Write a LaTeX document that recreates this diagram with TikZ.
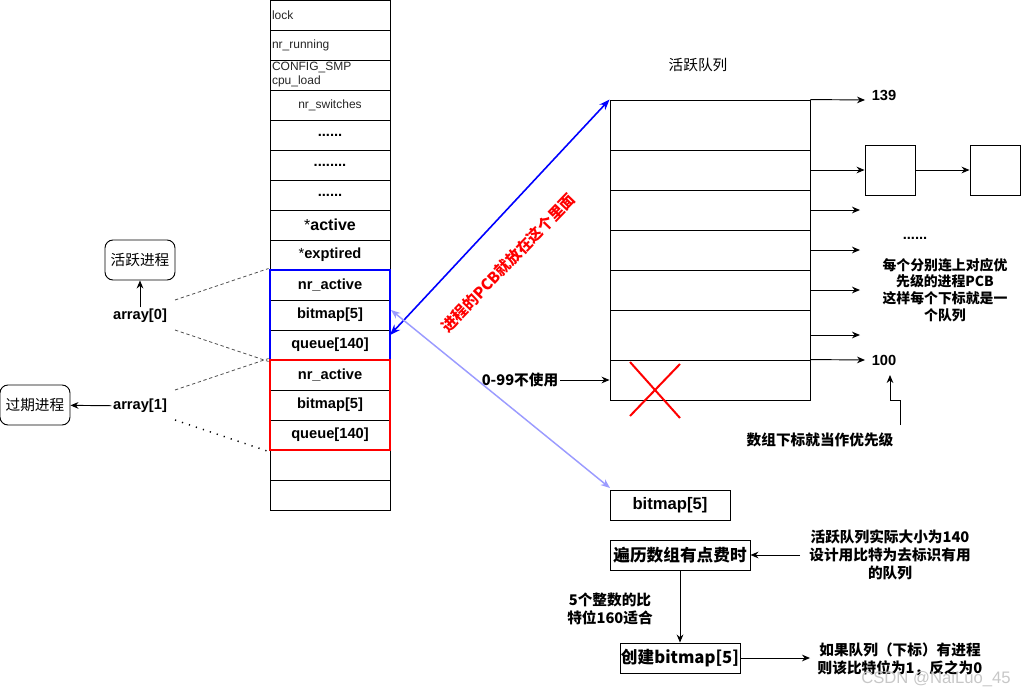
\documentclass[tikz,border=0pt]{standalone}
\usepackage{fontspec}
\setmainfont{Liberation Sans}
\newfontfamily\cjk{Noto Sans CJK SC}
\usetikzlibrary{arrows.meta}
\definecolor{lightblue}{RGB}{155,155,255}
\definecolor{dashgray}{RGB}{80,80,80}
\begin{document}
\begin{tikzpicture}[x=0.75pt,y=-0.75pt,line width=0.7pt,
  cell/.style={draw, minimum width=90pt, minimum height=22.5pt, inner sep=0pt, font=\bfseries\fontsize{11}{12}\selectfont},
  lcell/.style={draw, minimum width=90pt, minimum height=22.5pt, text width=87pt, align=left, inner xsep=1.5pt, inner ysep=0pt, font=\fontsize{9}{10.5}\selectfont, text=black!85},
  qcell/.style={draw, minimum width=150pt, inner sep=0pt},
  arr/.style={-{Stealth[length=6pt,width=5pt]}, line width=0.7pt},
  rbox/.style={draw, rounded corners=6pt, minimum width=52.5pt, minimum height=30pt, inner sep=0pt, font=\cjk\fontsize{11}{13}\selectfont},
  lbl/.style={font=\bfseries\fontsize{11}{13}\selectfont, inner sep=1pt},
  cjklbl/.style={font=\cjk\bfseries\fontsize{11}{13.5}\selectfont, align=center, inner sep=1pt},
  bbox/.style={draw, minimum width=90pt, minimum height=22.5pt, inner sep=0pt, font=\cjk\bfseries\fontsize{12.5}{14}\selectfont},
  pbox/.style={draw, minimum width=37.5pt, minimum height=37.5pt, inner sep=0pt}
]
\useasboundingbox (0,0) rectangle (1021,696);

% ---------- left table ----------
\node[lcell] (t1) at (330,15) {lock};
\node[lcell] (t2) at (330,45) {nr\_running};
\node[lcell] (t3) at (330,75) {CONFIG\_SMP\\cpu\_load};
\node[cell, font=\fontsize{9}{10}\selectfont, text=black!85] (t4) at (330,105) {nr\_switches};
\node[cell] (t5) at (330,135) {......};
\node[cell] (t6) at (330,165) {........};
\node[cell] (t7) at (330,195) {......};
\node[cell, font=\bfseries\fontsize{12}{13}\selectfont] (t8) at (330,225) {{\mdseries*}active};
\node[cell] (t9) at (330,255) {{\mdseries*}exptired};
\node[cell] (t10) at (330,285) {nr\_active};
\node[cell] (t11) at (330,315) {bitmap[5]};
\node[cell] (t12) at (330,345) {queue[140]};
\node[cell] (t13) at (330,375) {nr\_active};
\node[cell] (t14) at (330,405) {bitmap[5]};
\node[cell] (t15) at (330,435) {queue[140]};
\node[cell] (t16) at (330,465) {};
\node[cell] (t17) at (330,495) {};

\node[draw=blue, line width=2.2pt, minimum width=90pt, minimum height=67.5pt, inner sep=0pt] (arr0box) at (330,315) {};
\node[draw=red, line width=2.2pt, minimum width=90pt, minimum height=67.5pt, inner sep=0pt] (arr1box) at (330,405) {};

% ---------- left labels ----------
\node[rbox] (act) at (140,260) {活跃进程};
\node[lbl] (a0) at (140,316) {array[0]};
\node[rbox] (exp) at (35,405) {过期进程};
\node[lbl] (a1) at (140,406) {array[1]};
\draw[arr] (a0) -- (act);
\draw[arr] (a1) -- (exp);

\coordinate (d1) at (175,300);
\coordinate (d2) at (175,330);
\coordinate (d3) at (175,390);
\coordinate (d4) at (175,420);
\draw[dashgray, dash pattern=on 2.5pt off 2pt, line width=0.6pt] (d1) -- (arr0box.north west);
\draw[dashgray, dash pattern=on 2.5pt off 2pt, line width=0.6pt] (d2) -- (arr0box.south west);
\draw[dashgray, dash pattern=on 2.5pt off 2pt, line width=0.6pt] (d3) -- (arr1box.north west);
\draw[black, dash pattern=on 0.9pt off 4.6pt, line width=1.1pt] (d4) -- (arr1box.south west);

% ---------- queue table ----------
\node (qtitle) at (698,65) {\cjk\fontsize{11}{13}\selectfont 活跃队列};
\node[qcell, minimum height=37.5pt] (q1) at (710,125) {};
\node[qcell, minimum height=30pt] (q2) at (710,170) {};
\node[qcell, minimum height=30pt] (q3) at (710,210) {};
\node[qcell, minimum height=30pt] (q4) at (710,250) {};
\node[qcell, minimum height=30pt] (q5) at (710,290) {};
\node[qcell, minimum height=37.5pt] (q6) at (710,335) {};
\node[qcell, minimum height=30pt] (q7) at (710,380) {};

\draw[red, line width=1.5pt] (630,362) -- (680,418);
\draw[red, line width=1.5pt] (680,364) -- (630,416);

\node[lbl, anchor=west] (n139) at (870,95) {139};
\node[lbl, anchor=west] (n100) at (870,360) {100};
\coordinate (e139) at (865,100);
\coordinate (e100) at (865,360);
\draw[arr] (q1.north east) -- (e139);
\draw[arr] (q7.north east) -- (e100);

\node[pbox] (p1) at (890,170) {};
\node[pbox] (p2) at (995,170) {};
\draw[arr] (q2.east) -- (p1.west);
\draw[arr] (p1.east) -- (p2.west);

\coordinate (e3) at (860,210);
\coordinate (e4) at (860,250);
\coordinate (e5) at (860,290);
\coordinate (e6) at (860,335);
\draw[arr] (q3.east) -- (e3);
\draw[arr] (q4.east) -- (e4);
\draw[arr] (q5.east) -- (e5);
\draw[arr] (q6.east) -- (e6);

\node[lbl] (dots) at (915,238) {......};
\node[font=\cjk\bfseries\fontsize{10.4}{12.5}\selectfont, align=center, inner sep=0pt] (expl) at (945,290) {每个分别连上对应优\\先级的进程PCB\\这样每个下标就是一\\个队列};

\node[cjklbl] (prio) at (820,440) {数组下标就当作优先级};
\coordinate (pr1) at (900,425);
\coordinate (pr2) at (890,375);
\draw[arr] (pr1) -- (900,400) -- (890,400) -- (pr2);

\node[cjklbl] (unused) at (520,380) {0-99不使用};
\draw[arr] (unused.east) -- (q7.west);

% ---------- connecting arrows ----------
\coordinate (bl) at (390,335);
\coordinate (lb) at (391,310);
\coordinate (bm) at (610,488);
\draw[blue, line width=1.2pt, {Stealth[length=8pt,width=6pt]}-{Stealth[length=8pt,width=6pt]}] (bl) -- (q1.north west);
\draw[lightblue, line width=1.1pt, {Stealth[length=7pt,width=5.5pt,open]}-{Stealth[length=7pt,width=5.5pt,open]}] (lb) -- (bm);
\node[rotate=46, text=red, font=\cjk\bfseries\fontsize{11.5}{13}\selectfont, inner sep=0pt] (pcb) at (508,263) {进程的PCB就放在这个里面};

% ---------- bottom part ----------
\node[bbox, font=\bfseries\fontsize{12.5}{14}\selectfont] (bm5) at (670,505) {bitmap[5]};
\node[bbox, minimum width=105pt] (bianli) at (680,555) {遍历数组有点费时};
\node[bbox] (create) at (680,658) {创建bitmap[5]};
\node[cjklbl] (size) at (890,555) {活跃队列实际大小为140\\设计用比特为去标识有用\\的队列};
\node[cjklbl] (five) at (610,609) {5个整数的比\\特位160适合};
\node[cjklbl] (rule) at (900,659) {如果队列（下标）有进程\\则该比特位为1，反之为0};
\coordinate (se) at (800,555);
\coordinate (re) at (810,658);
\draw[arr] (se) -- (bianli.east);
\draw[arr] (bianli.south) -- (create.north);
\draw[arr] (create.east) -- (re);

\node[text=black!22, font=\fontsize{12.5}{14}\selectfont] (wm) at (936,679) {CSDN @NaiLuo\_45};
\end{tikzpicture}
\end{document}
